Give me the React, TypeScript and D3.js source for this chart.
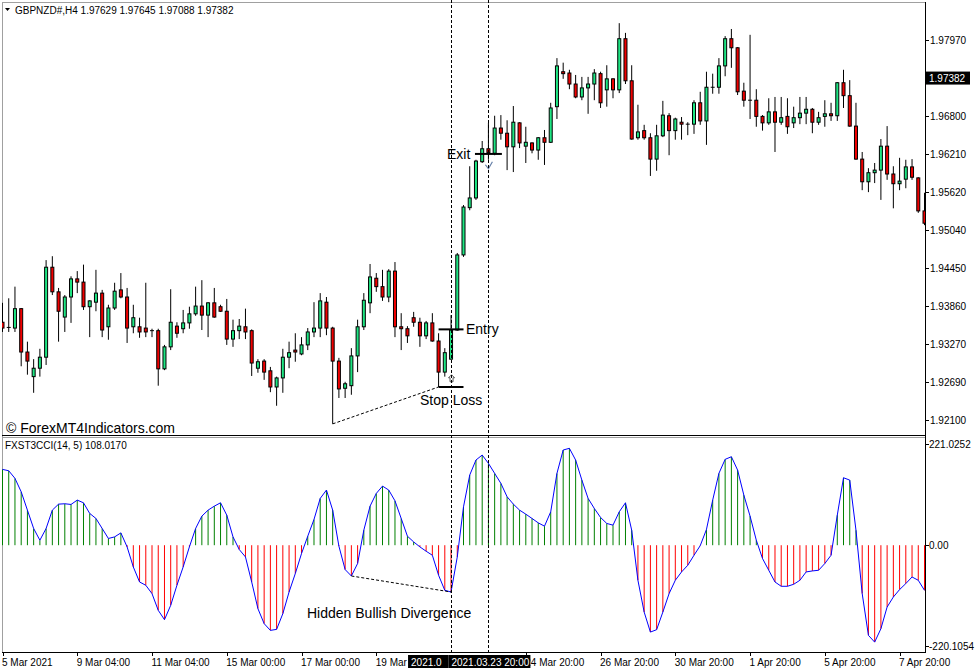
import React from 'react';
import * as d3 from 'd3';

const open = [1.9361,1.9352,1.9352,1.9382,1.9315,1.9277,1.9290,1.9307,1.9446,1.9408,1.9369,1.9400,1.9428,1.9423,1.9385,1.9392,1.9406,1.9354,1.9383,1.9411,1.9400,1.9354,1.9354,1.9352,1.9348,1.9348,1.9289,1.9323,1.9355,1.9351,1.9360,1.9374,1.9386,1.9372,1.9391,1.9385,1.9378,1.9335,1.9348,1.9354,1.9348,1.9290,1.9301,1.9286,1.9261,1.9275,1.9307,1.9318,1.9312,1.9326,1.9346,1.9352,1.9392,1.9352,1.9301,1.9259,1.9263,1.9309,1.9354,1.9391,1.9429,1.9416,1.9400,1.9440,1.9354,1.9351,1.9368,1.9361,1.9340,1.9360,1.9332,1.9284,1.9304,1.9349,1.9465,1.9538,1.9553,1.9609,1.9629,1.9622,1.9661,1.9653,1.9632,1.9669,1.9633,1.9638,1.9627,1.9646,1.9639,1.9694,1.9748,1.9746,1.9729,1.9709,1.9723,1.9729,1.9745,1.9720,1.9737,1.9720,1.9799,1.9734,1.9646,1.9657,1.9646,1.9613,1.9649,1.9680,1.9657,1.9670,1.9667,1.9667,1.9700,1.9672,1.9724,1.9724,1.9757,1.9799,1.9785,1.9718,1.9704,1.9704,1.9679,1.9669,1.9686,1.9670,1.9679,1.9669,1.9677,1.9684,1.9690,1.9670,1.9679,1.9683,1.9680,1.9731,1.9711,1.9664,1.9613,1.9578,1.9592,1.9596,1.9633,1.9590,1.9575,1.9582,1.9601,1.9584,1.9533];
const high = [1.9391,1.9398,1.9416,1.9383,1.9331,1.9304,1.9320,1.9457,1.9463,1.9414,1.9403,1.9432,1.9440,1.9450,1.9395,1.9442,1.9411,1.9388,1.9422,1.9437,1.9414,1.9388,1.9368,1.9422,1.9351,1.9351,1.9326,1.9412,1.9361,1.9380,1.9385,1.9416,1.9426,1.9392,1.9414,1.9388,1.9397,1.9365,1.9366,1.9382,1.9350,1.9304,1.9304,1.9292,1.9277,1.9320,1.9331,1.9344,1.9338,1.9352,1.9392,1.9406,1.9400,1.9354,1.9306,1.9269,1.9321,1.9365,1.9406,1.9451,1.9437,1.9442,1.9443,1.9454,1.9375,1.9355,1.9377,1.9368,1.9363,1.9375,1.9344,1.9321,1.9372,1.9468,1.9542,1.9602,1.9612,1.9641,1.9669,1.9680,1.9681,1.9673,1.9695,1.9670,1.9663,1.9639,1.9647,1.9658,1.9700,1.9769,1.9762,1.9751,1.9743,1.9740,1.9740,1.9752,1.9748,1.9758,1.9738,1.9823,1.9808,1.9758,1.9697,1.9666,1.9653,1.9666,1.9703,1.9684,1.9677,1.9678,1.9670,1.9704,1.9717,1.9748,1.9745,1.9769,1.9803,1.9814,1.9786,1.9731,1.9805,1.9721,1.9681,1.9707,1.9709,1.9709,1.9707,1.9694,1.9709,1.9709,1.9692,1.9686,1.9704,1.9700,1.9732,1.9751,1.9735,1.9700,1.9624,1.9599,1.9607,1.9644,1.9664,1.9602,1.9615,1.9612,1.9613,1.9585,1.9561];
const low = [1.9346,1.9346,1.9346,1.9293,1.9280,1.9252,1.9277,1.9295,1.9403,1.9331,1.9346,1.9360,1.9406,1.9380,1.9338,1.9378,1.9338,1.9334,1.9380,1.9398,1.9329,1.9344,1.9337,1.9338,1.9338,1.9263,1.9287,1.9318,1.9337,1.9344,1.9351,1.9371,1.9349,1.9338,1.9368,1.9377,1.9326,1.9323,1.9335,1.9335,1.9278,1.9283,1.9272,1.9253,1.9232,1.9252,1.9290,1.9300,1.9310,1.9318,1.9338,1.9338,1.9341,1.9204,1.9244,1.9244,1.9249,1.9284,1.9349,1.9375,1.9408,1.9394,1.9392,1.9338,1.9318,1.9329,1.9354,1.9323,1.9335,1.9331,1.9261,1.9277,1.9303,1.9348,1.9462,1.9534,1.9550,1.9607,1.9612,1.9619,1.9643,1.9596,1.9593,1.9630,1.9607,1.9622,1.9612,1.9604,1.9638,1.9675,1.9737,1.9721,1.9707,1.9704,1.9683,1.9704,1.9692,1.9694,1.9707,1.9715,1.9729,1.9643,1.9643,1.9643,1.9587,1.9595,1.9647,1.9619,1.9643,1.9643,1.9650,1.9652,1.9666,1.9635,1.9714,1.9714,1.9741,1.9754,1.9712,1.9694,1.9675,1.9663,1.9657,1.9666,1.9624,1.9666,1.9652,1.9661,1.9667,1.9667,1.9653,1.9666,1.9663,1.9672,1.9672,1.9692,1.9663,1.9612,1.9565,1.9562,1.9576,1.9550,1.9581,1.9537,1.9565,1.9568,1.9581,1.9530,1.9511];
const close = [1.9352,1.9353,1.9382,1.9315,1.9301,1.9290,1.9307,1.9446,1.9408,1.9378,1.9400,1.9428,1.9423,1.9385,1.9394,1.9406,1.9349,1.9383,1.9409,1.9400,1.9352,1.9368,1.9346,1.9346,1.9347,1.9289,1.9323,1.9361,1.9344,1.9360,1.9374,1.9386,1.9372,1.9391,1.9369,1.9378,1.9335,1.9348,1.9355,1.9346,1.9298,1.9300,1.9284,1.9261,1.9275,1.9307,1.9314,1.9315,1.9326,1.9346,1.9352,1.9394,1.9352,1.9301,1.9258,1.9266,1.9309,1.9354,1.9395,1.9431,1.9416,1.9400,1.9440,1.9354,1.9351,1.9340,1.9361,1.9340,1.9360,1.9332,1.9284,1.9314,1.9349,1.9465,1.9539,1.9553,1.9610,1.9629,1.9623,1.9661,1.9653,1.9632,1.9670,1.9638,1.9639,1.9627,1.9646,1.9639,1.9692,1.9757,1.9745,1.9729,1.9709,1.9723,1.9729,1.9746,1.9700,1.9737,1.9720,1.9799,1.9734,1.9644,1.9655,1.9646,1.9613,1.9649,1.9681,1.9657,1.9675,1.9667,1.9666,1.9700,1.9672,1.9724,1.9723,1.9757,1.9799,1.9785,1.9717,1.9704,1.9703,1.9679,1.9669,1.9686,1.9670,1.9677,1.9663,1.9677,1.9684,1.9690,1.9670,1.9677,1.9683,1.9680,1.9731,1.9711,1.9664,1.9613,1.9578,1.9592,1.9596,1.9633,1.9590,1.9575,1.9579,1.9601,1.9585,1.9533,1.9514];
const cci = [165.6,162.6,146,116.6,76.6,36.5,10.9,36.5,76.6,89.7,90.5,89,98.5,92.6,69.4,58.4,36.5,14.7,18.2,26.9,-3.7,-47.5,-80.3,-87.5,-105.7,-142.2,-162.6,-131.3,-87.5,-47.5,-3.7,36.5,63.5,76.6,85.3,92.6,65.6,18.2,-9.4,-25.6,-80.3,-138.5,-171.3,-186,-183.8,-149.5,-102.2,-61.9,-18.2,19.7,56.2,102.2,120.4,76.6,-2,-53.2,-67.2,-40,32.8,85.3,113.1,129.1,120.4,96.9,58.4,19.7,7.2,-3.7,-13.1,-21.9,-65.6,-98.5,-102.2,-25.6,83.8,153.2,186,196.9,178.8,156.9,135,105.7,89.7,76.6,67.8,58.4,48.8,41.6,72.9,156.9,207.9,211.6,186,142.2,102.2,80.3,60.6,47.5,43.8,72.9,92.6,32.8,-76.6,-146,-189.7,-184.5,-146,-105.7,-76.6,-58.4,-43.8,-21.9,-1,34.4,98.5,156.9,187.5,193.2,164.1,109.4,63.5,10.9,-29.1,-54.7,-80.3,-89.7,-89.7,-85.3,-76.6,-58.4,-56.2,-54.7,-40,-21.9,65.6,147.3,142.2,32.8,-105.7,-196.9,-211.6,-182.3,-135,-113.1,-96.9,-83.8,-69.4,-76.6,-98.5];

const priceTicks = [1.9797, 1.968, 1.9621, 1.9562, 1.9504, 1.9445, 1.9386, 1.9327, 1.9269, 1.921];
const cciTicks = [221.0252, 0, -220.1054];
const timeIndex = [0, 12, 24, 36, 48, 60, 84, 96, 108, 120, 132, 144];
const timeText = ['5 Mar 2021', '9 Mar 04:00', '11 Mar 04:00', '15 Mar 00:00', '17 Mar 00:00', '19 Mar', '24 Mar 20:00', '26 Mar 20:00', '30 Mar 20:00', '1 Apr 20:00', '5 Apr 20:00', '7 Apr 20:00'];
const markerIndex = [72, 78];
const markerText = ['2021.0', '2021.03.23 20:00'];
const header = 'GBPNZD#,H4  1.97629 1.97645 1.97088 1.97382';
const currentPrice = 1.97382;
const indicatorLabel = 'FXST3CCI(14, 5) 108.0170';
const entryPrice = 1.9350;
const stopPrice = 1.9261;
const exitPrice = 1.9621;

const FONT = '"Liberation Sans", Arial, sans-serif';
const W = 977, H = 672;
const L = 2, R = 925, MT = 2, MB = 435, IT = 438, IB = 652;

export default function App() {
  const n = close.length;
  const x = d3.scaleLinear().domain([0, n - 1]).range([2.5, 924.5]);
  const y = d3.scaleLinear().domain([1.921, 1.9797]).range([420, 40]);
  const yc = d3.scaleLinear().domain([-220.1054, 221.0252]).range([646, 444]);
  const cciLine = d3.line<number>().x((_, i) => x(i)).y(d => yc(d))(cci) || '';
  const idx = d3.range(n);
  const boxLeft = [x(markerIndex[0]) - 43, x(markerIndex[1]) - 40];
  const boxRight = [boxLeft[1], x(markerIndex[1]) + 42];

  return (
    <div style={{ position: 'absolute', left: 0, top: 0, width: W, height: H, background: '#fff' }}>
      <svg width={W} height={H} style={{ display: 'block', fontFamily: FONT }}>
        <defs>
          <clipPath id="mainClip"><rect x={L} y={MT} width={R - L} height={MB - MT} /></clipPath>
          <clipPath id="indClip"><rect x={L} y={IT} width={R - L} height={IB - IT} /></clipPath>
        </defs>
        <rect x={0} y={0} width={W} height={H} fill="#fff" />
        {/* frames */}
        <rect x={L + 0.5} y={MT + 0.5} width={R - L} height={IB - MT} fill="none" stroke="#a0a0a0" />
        <line x1={L} x2={R} y1={MB + 0.5} y2={MB + 0.5} stroke="#000" />
        <line x1={L} x2={R} y1={IT - 0.5} y2={IT - 0.5} stroke="#a0a0a0" />
        <line x1={L} x2={R + 1} y1={IB + 0.5} y2={IB + 0.5} stroke="#000" />
        <line x1={R + 0.5} x2={R + 0.5} y1={MT} y2={IB + 1} stroke="#000" />

        {/* candles */}
        <g clipPath="url(#mainClip)">
          {idx.map(i => {
            const cx = x(i);
            const o = open[i], c = close[i];
            const top = y(Math.max(o, c)), bot = y(Math.min(o, c));
            const bull = c >= o;
            return (
              <g key={i}>
                <line x1={cx} x2={cx} y1={y(high[i])} y2={y(low[i])} stroke="#000" strokeWidth={1} />
                {bot - top < 1 ? (
                  <line x1={cx - 2} x2={cx + 2} y1={top} y2={top} stroke="#000" strokeWidth={1} />
                ) : (
                  <rect x={cx - 1.5} y={top} width={3} height={bot - top} fill={bull ? '#1ee683' : '#f00000'} stroke="#000" strokeWidth={1} />
                )}
              </g>
            );
          })}
          {/* divergence on price */}
          <line x1={x(53)} y1={y(low[53])} x2={x(70)} y2={y(low[70])} stroke="#000" strokeDasharray="3,2" strokeWidth={1} />
          {/* entry / stop / exit */}
          <line x1={x(70)} x2={x(74)} y1={y(entryPrice)} y2={y(entryPrice)} stroke="#000" strokeWidth={2} />
          <line x1={x(70)} x2={x(74)} y1={y(stopPrice)} y2={y(stopPrice)} stroke="#000" strokeWidth={2} />
          <line x1={x(76) - 1} x2={x(80) + 1} y1={y(exitPrice)} y2={y(exitPrice)} stroke="#000" strokeWidth={2} />
          {(() => {
            const ax = x(72) + 0.5, ay = y(low[72]) + 15;
            return <path d={`M${ax},${ay} L${ax + 3},${ay + 3} L${ax + 1.5},${ay + 3} L${ax + 1.5},${ay + 7} L${ax - 1.5},${ay + 7} L${ax - 1.5},${ay + 3} L${ax - 3},${ay + 3} Z`} fill="#fff" stroke="#555" strokeWidth={1} />;
          })()}
          {(() => {
            const kx = x(78), ky = y(low[78]) + 2;
            return <path d={`M${kx - 3},${ky + 3} L${kx},${ky + 7} L${kx + 4},${ky}`} fill="none" stroke="#6680a8" strokeWidth={1.2} />;
          })()}
          <text x={447} y={158.5} fontSize={14} fill="#000">Exit</text>
          <text x={466} y={333.5} fontSize={14} fill="#000">Entry</text>
          <text x={420} y={404.5} fontSize={14} fill="#000">Stop Loss</text>
          <text x={6} y={433} fontSize={14} fill="#000">© ForexMT4Indicators.com</text>
        </g>

        {/* header */}
        <path d="M5,8 L10,8 L7.5,11 Z" fill="#000" />
        <text x={15} y={14} fontSize={10} fill="#000">{header}</text>

        {/* indicator */}
        <g clipPath="url(#indClip)">
          {idx.map(i => (
            <line key={i} x1={x(i)} x2={x(i)} y1={yc(0)} y2={yc(cci[i])} stroke={cci[i] >= 0 ? '#008000' : '#ff0000'} strokeWidth={1} />
          ))}
          <path d={cciLine} fill="none" stroke="#0000ff" strokeWidth={1} />
          <line x1={x(56)} y1={yc(cci[56])} x2={x(72)} y2={yc(cci[72])} stroke="#000" strokeDasharray="3,2" strokeWidth={1} />
          <text x={307} y={618} fontSize={14} fill="#000">Hidden Bullish Divergence</text>
        </g>
        <text x={5} y={449} fontSize={10} fill="#000">{indicatorLabel}</text>

        {/* vertical dashed lines */}
        {markerIndex.map((m, k) => (
          <line key={k} x1={Math.round(x(m)) + 0.5} x2={Math.round(x(m)) + 0.5} y1={0} y2={IB} stroke="#000" strokeDasharray="3,2" strokeWidth={1} />
        ))}

        {/* price axis */}
        {priceTicks.map((p, k) => (
          <g key={k}>
            <line x1={R} x2={R + 4} y1={Math.round(y(p)) + 0.5} y2={Math.round(y(p)) + 0.5} stroke="#000" />
            <text x={930} y={y(p) + 4} fontSize={10} fill="#000">{p.toFixed(5)}</text>
          </g>
        ))}
        <rect x={926} y={y(currentPrice) - 6.5} width={44} height={13} fill="#000" />
        <text x={929} y={y(currentPrice) + 4} fontSize={10} fill="#fff">{currentPrice.toFixed(5)}</text>

        {/* indicator axis */}
        {cciTicks.map((v, k) => (
          <g key={k}>
            <line x1={R} x2={R + 4} y1={Math.round(yc(v)) + 0.5} y2={Math.round(yc(v)) + 0.5} stroke="#000" />
            <text x={929} y={yc(v) + 4} fontSize={10} fill="#000">{v === 0 ? '0.00' : v.toFixed(4)}</text>
          </g>
        ))}

        {/* time axis */}
        {timeIndex.map((ti, k) => (
          <g key={k}>
            <line x1={Math.round(x(ti)) + 0.5} x2={Math.round(x(ti)) + 0.5} y1={IB} y2={IB + 4} stroke="#000" />
            <text x={x(ti) - 0.5} y={666} fontSize={10} fill="#000">{timeText[k]}</text>
          </g>
        ))}
        {markerIndex.map((m, k) => (
          <g key={k}>
            <rect x={boxLeft[k]} y={655} width={boxRight[k] - boxLeft[k]} height={13} fill="#000" />
            <text x={boxLeft[k] + 3} y={666} fontSize={10} fill="#fff">{markerText[k]}</text>
          </g>
        ))}
      </svg>
    </div>
  );
}
